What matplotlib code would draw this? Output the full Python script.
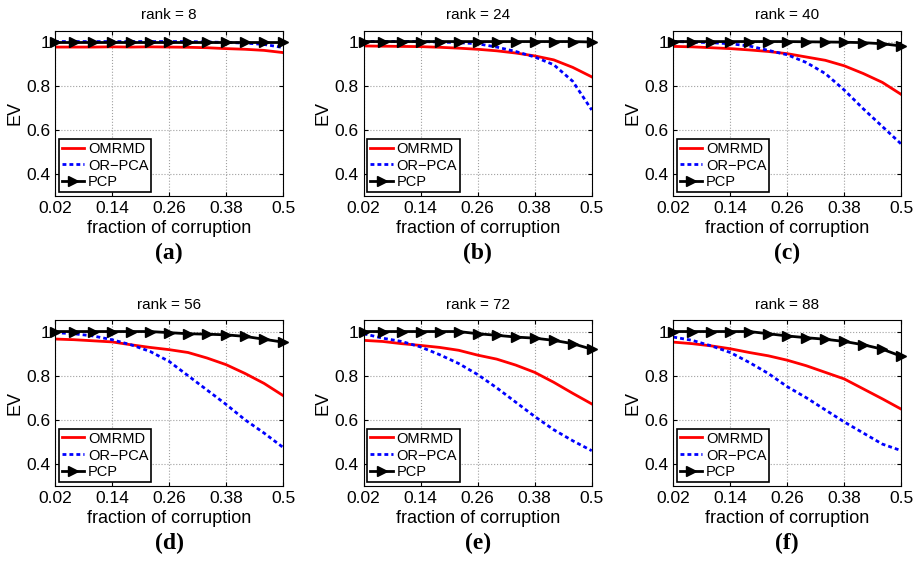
import numpy as np
import matplotlib
matplotlib.use('Agg')
import matplotlib.pyplot as plt

# fraction of corruption (13 points, step 0.04)
frac = [0.02, 0.06, 0.10, 0.14, 0.18, 0.22, 0.26, 0.30, 0.34, 0.38, 0.42, 0.46, 0.50]
ranks = [8, 24, 40, 56, 72, 88]
panel_tags = ['(a)', '(b)', '(c)', '(d)', '(e)', '(f)']

# EV values, one list per rank
omrmd_8 = [0.975, 0.975, 0.975, 0.976, 0.975, 0.976, 0.975, 0.974, 0.972, 0.968, 0.965, 0.960, 0.950]
orpca_8 = [1.0, 1.0, 1.0, 1.0, 1.0, 1.0, 1.0, 1.0, 0.998, 0.996, 0.993, 0.987, 0.973]
pcp_8 = [1.0, 1.0, 1.0, 1.0, 1.0, 1.0, 1.0, 1.0, 1.0, 1.0, 1.0, 1.0, 1.0]

omrmd_24 = [0.980, 0.979, 0.978, 0.977, 0.974, 0.970, 0.965, 0.958, 0.948, 0.935, 0.917, 0.883, 0.840]
orpca_24 = [1.0, 1.0, 1.0, 1.0, 0.998, 0.995, 0.990, 0.975, 0.955, 0.930, 0.895, 0.820, 0.690]
pcp_24 = [1.0, 1.0, 1.0, 1.0, 1.0, 1.0, 1.0, 1.0, 1.0, 1.0, 1.0, 1.0, 0.998]

omrmd_40 = [0.978, 0.976, 0.972, 0.968, 0.962, 0.955, 0.945, 0.930, 0.915, 0.890, 0.855, 0.815, 0.760]
orpca_40 = [1.0, 0.998, 0.995, 0.990, 0.980, 0.960, 0.940, 0.905, 0.855, 0.780, 0.695, 0.615, 0.535]
pcp_40 = [1.0, 1.0, 1.0, 1.0, 1.0, 1.0, 1.0, 0.999, 0.998, 0.997, 0.995, 0.990, 0.980]

omrmd_56 = [0.966, 0.963, 0.958, 0.953, 0.940, 0.928, 0.918, 0.905, 0.880, 0.850, 0.810, 0.765, 0.710]
orpca_56 = [0.995, 0.990, 0.980, 0.963, 0.940, 0.910, 0.865, 0.800, 0.735, 0.670, 0.600, 0.540, 0.475]
pcp_56 = [1.0, 1.0, 1.0, 1.0, 1.0, 1.0, 0.995, 0.990, 0.988, 0.985, 0.978, 0.965, 0.952]

omrmd_72 = [0.960, 0.955, 0.945, 0.937, 0.928, 0.915, 0.893, 0.875, 0.848, 0.815, 0.770, 0.720, 0.672]
orpca_72 = [0.990, 0.970, 0.955, 0.930, 0.895, 0.855, 0.805, 0.745, 0.680, 0.615, 0.555, 0.505, 0.460]
pcp_72 = [1.0, 1.0, 1.0, 1.0, 1.0, 1.0, 0.990, 0.983, 0.975, 0.970, 0.960, 0.945, 0.920]

omrmd_88 = [0.952, 0.945, 0.935, 0.922, 0.905, 0.890, 0.870, 0.845, 0.815, 0.785, 0.740, 0.695, 0.648]
orpca_88 = [0.975, 0.960, 0.935, 0.905, 0.860, 0.810, 0.750, 0.700, 0.645, 0.590, 0.540, 0.490, 0.460]
pcp_88 = [1.0, 1.0, 1.0, 1.0, 1.0, 0.990, 0.980, 0.972, 0.965, 0.955, 0.940, 0.920, 0.888]

omrmd = [omrmd_8, omrmd_24, omrmd_40, omrmd_56, omrmd_72, omrmd_88]
orpca = [orpca_8, orpca_24, orpca_40, orpca_56, orpca_72, orpca_88]
pcp = [pcp_8, pcp_24, pcp_40, pcp_56, pcp_72, pcp_88]

xticks = [0.02, 0.14, 0.26, 0.38, 0.5]
xticklabels = ['0.02', '0.14', '0.26', '0.38', '0.5']
yticks = [0.4, 0.6, 0.8, 1.0]
yticklabels = ['0.4', '0.6', '0.8', '1']

plt.rcParams['font.family'] = ['Liberation Sans', 'DejaVu Sans']

fig = plt.figure(figsize=(9.16, 5.61), dpi=100)
lefts = [0.060, 0.397, 0.735]
bottoms = [0.6506, 0.1337]
w, h = 0.249, 0.295

for i in range(6):
    r, c = divmod(i, 3)
    ax = fig.add_axes([lefts[c], bottoms[r], w, h])
    ax.plot(frac, omrmd[i], color='#ff0000', lw=2.0, label='OMRMD')
    ax.plot(frac, orpca[i], color='#0000ff', lw=2.0, ls=(0, (1.4, 1.1)), label='OR\u2212PCA')
    ax.plot(frac, pcp[i], color='black', lw=2.0, marker='>', ms=7, label='PCP', clip_on=False)
    ax.set_xlim(0.02, 0.5)
    ax.set_ylim(0.3, 1.05)
    ax.set_xticks(xticks)
    ax.set_xticklabels(xticklabels)
    ax.set_yticks(yticks)
    ax.set_yticklabels(yticklabels)
    ax.tick_params(direction='in', top=True, right=True, labelsize=12.5, length=3)
    ax.grid(True, ls=':', color='#a0a0a0', lw=0.8)
    for s in ax.spines.values():
        s.set_linewidth(0.8)
    ax.set_title(f'rank = {ranks[i]}', fontsize=11, pad=8)
    ax.set_xlabel('fraction of corruption', fontsize=13, labelpad=3)
    ax.set_ylabel('EV', fontsize=13, labelpad=2)
    leg = ax.legend(loc='lower left', fontsize=10.5, fancybox=False, framealpha=1,
                    edgecolor='black', borderpad=0.2, labelspacing=0.2,
                    handlelength=1.55, handletextpad=0.25, borderaxespad=0.25)
    leg.get_frame().set_linewidth(1.2)
    fig.text(lefts[c] + w / 2, bottoms[r] - 0.102, panel_tags[i], ha='center', va='center',
             fontsize=17, fontweight='bold', family=['Liberation Serif', 'DejaVu Serif'])

fig.savefig('out.png', dpi=100)
